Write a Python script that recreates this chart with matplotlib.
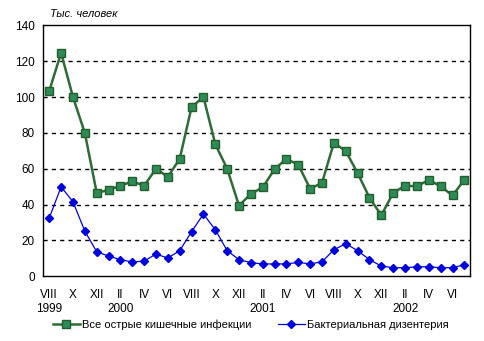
import matplotlib
matplotlib.use("Agg")
import matplotlib.pyplot as plt

plt.rcParams['font.family'] = ['Liberation Sans', 'DejaVu Sans']

months = ["VIII", "IX", "X", "XI", "XII", "I", "II", "III", "IV", "V", "VI", "VII"] + \
         ["VIII", "IX", "X", "XI", "XII", "I", "II", "III", "IV", "V", "VI", "VII"] + \
         ["VIII", "IX", "X", "XI", "XII", "I", "II", "III", "IV", "V", "VI", "VII"]
year_labels = {0: "1999", 6: "2000", 18: "2001", 30: "2002"}

all_infections = [103.4, 124.6, 100.0, 80.0, 46.6, 48.1, 50.5, 53.0, 50.5, 60.0, 55.5, 65.5,
                  94.4, 100.0, 73.7, 60.0, 39.4, 46.0, 49.6, 59.8, 65.5, 62.2, 48.8, 52.2,
                  74.5, 69.8, 57.6, 43.8, 34.0, 46.6, 50.5, 50.2, 53.8, 50.2, 45.1, 53.8]
dysentery = [32.5, 49.9, 41.6, 25.2, 13.7, 11.3, 9.3, 8.0, 8.5, 12.4, 10.2, 14.3,
             24.9, 34.7, 26.0, 14.3, 9.3, 7.6, 6.9, 6.9, 6.9, 7.8, 6.9, 8.1,
             14.8, 18.2, 14.3, 9.3, 5.7, 4.8, 4.8, 5.3, 5.3, 4.8, 4.8, 6.5]

label_all = "Все острые кишечные инфекции"
label_dys = "Бактериальная дизентерия"
ylabel_text = "Тыс. человек"

fig = plt.figure(figsize=(4.85, 3.41), dpi=100)
ax = fig.add_axes([0.0893, 0.1897, 0.8804, 0.7361])

x = list(range(len(months)))
ax.plot(x, all_infections, color='#2f6b35', lw=1.8, marker='s', markersize=5.5,
        markerfacecolor='#2e8b57', markeredgecolor='#225f2a', markeredgewidth=1.0,
        label=label_all, zorder=3)
ax.plot(x, dysentery, color='#0000dd', lw=0.9, marker='D', markersize=4,
        markerfacecolor='#0000dd', markeredgecolor='#0000dd',
        label=label_dys, zorder=4)

ax.set_xlim(-0.5, len(months) - 0.5)
ax.set_ylim(0, 140)
ax.set_yticks(range(0, 141, 20))
ticks = list(range(0, len(months), 2))
ax.set_xticks(ticks)
ax.set_xticklabels([months[i] + ("\n" + year_labels[i] if i in year_labels else "\n") for i in ticks],
                   fontsize=8.5, linespacing=1.2)
ax.tick_params(axis='x', length=0, pad=9)
ax.tick_params(axis='y', length=0, pad=6, labelsize=8.5)
for yv in range(20, 140, 20):
    ax.axhline(yv, color='black', lw=1.0, ls=(0, (3, 3)), zorder=1)
for s in ax.spines.values():
    s.set_color('black')
    s.set_linewidth(1.0)

fig.text(0.103, 0.958, ylabel_text, fontsize=8, style='italic', va='center', ha='left')

fig.legend(loc='center', bbox_to_anchor=(0.517, 0.048), ncol=2, frameon=False,
           fontsize=8, handlelength=2.4, columnspacing=2.4, handletextpad=0.2)

fig.savefig("out.png", dpi=100)
